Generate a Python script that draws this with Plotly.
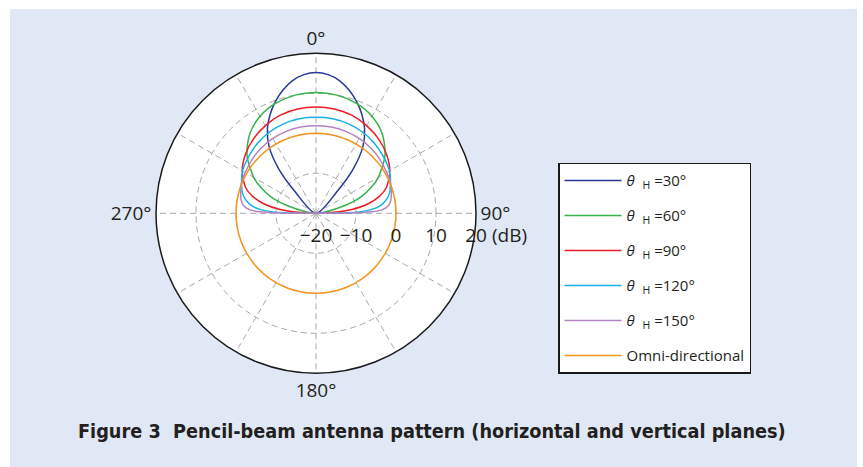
import plotly.graph_objects as go

# ---- data (half patterns, symmetric about 0 deg) ----
series_names = ["<i>θ</i>  <sub>H</sub> =30°", "<i>θ</i>  <sub>H</sub> =60°", "<i>θ</i>  <sub>H</sub> =90°",
                "<i>θ</i>  <sub>H</sub> =120°", "<i>θ</i>  <sub>H</sub> =150°", "Omni-directional"]
series_colors = ["#263A96", "#37B34A", "#ED1C24", "#14B1E7", "#B584C4", "#F7941D"]

theta30 = [0, 5, 10, 15, 20, 25, 30, 35, 40, 44, 47]
gain30 = [15.2, 14.8, 13.7, 11.9, 9.7, 7.2, 4.3, 0.5, -5.5, -12.5, -20]

theta60 = [0, 10, 20, 30, 40, 50, 60, 65, 70, 75, 79]
gain60 = [10.2, 10.0, 9.3, 8.0, 5.8, 2.5, -2.0, -4.8, -8.0, -12.5, -20]

theta90 = [0, 10, 20, 30, 40, 50, 60, 70, 75, 80, 84, 87, 89]
gain90 = [6.6, 6.5, 6.1, 5.3, 4.3, 3.0, 1.3, -1.3, -3.6, -7.0, -11.0, -15.5, -20]

theta120 = [0, 10, 20, 30, 40, 50, 60, 70, 75, 80, 84, 87, 89, 90]
gain120 = [4.0, 4.0, 3.8, 3.4, 2.8, 2.0, 1.2, -0.2, -1.0, -2.4, -4.2, -7.2, -12, -20]

theta150 = [0, 10, 20, 30, 40, 50, 60, 70, 75, 80, 84, 87, 88.5, 89.5, 90]
gain150 = [1.9, 1.9, 1.8, 1.6, 1.3, 0.9, 0.4, 0.0, -0.5, -1.0, -1.8, -3.5, -6, -11, -20]

omni_theta = list(range(0, 361, 5))
omni_gain = [0.0] * len(omni_theta)

radial_ticks = [-20, -10, 0, 10, 20]
radial_labels = ["−20", "−10", "0", "10", "20"]
angular_ticks = list(range(0, 360, 30))
angular_labels = ["0°", "", "", "90°", "", "", "180°", "", "", "270°", "", ""]
title_text = "Figure 3  Pencil-beam antenna pattern (horizontal and vertical planes)"


def full(theta, gain):
    th = [-t for t in reversed(theta[1:])] + theta
    g = list(reversed(gain[1:])) + gain
    return th, g


halves = [(theta30, gain30), (theta60, gain60), (theta90, gain90),
          (theta120, gain120), (theta150, gain150)]

fig = go.Figure()
for i, (th, g) in enumerate(halves):
    t_full, g_full = full(th, g)
    fig.add_trace(go.Scatterpolar(
        theta=t_full, r=g_full, mode="lines", name=series_names[i],
        line=dict(color=series_colors[i], width=1.5, shape="spline", smoothing=0.8),
        legendgroup=str(i)))
fig.add_trace(go.Scatterpolar(
    theta=omni_theta, r=omni_gain, mode="lines", name=series_names[5],
    line=dict(color=series_colors[5], width=1.5), legendgroup="5"))

W, H = 863, 467
cx, cy, R = 316, 213.3, 160
fig.update_layout(
    width=W, height=H,
    margin=dict(l=0, r=0, t=0, b=0),
    paper_bgcolor="white",
    font=dict(family="Open Sans, Noto Sans, sans-serif", color="#231F20"),
    showlegend=True,
    polar=dict(
        domain=dict(x=[(cx - R) / W, (cx + R) / W],
                    y=[(H - cy - R) / H, (H - cy + R) / H]),
        bgcolor="white",
        angularaxis=dict(
            rotation=90, direction="clockwise",
            tickmode="array", tickvals=angular_ticks, ticktext=angular_labels,
            ticks="", showline=True, linecolor="#1a1a1a", linewidth=1.5,
            gridcolor="#A8A8A8", gridwidth=1, griddash="6px,4px",
            tickfont=dict(size=19, color="#231F20"),
        ),
        radialaxis=dict(
            range=[-20, 20], angle=0, side="clockwise",
            tickmode="array", tickvals=radial_ticks, ticktext=radial_labels,
            showline=False, ticks="outside", ticklen=5, tickcolor="rgba(0,0,0,0)",
            gridcolor="#A8A8A8", gridwidth=1, griddash="6px,4px",
            tickfont=dict(size=19, color="#231F20"), tickangle=0,
        ),
    ),
    legend=dict(
        x=558 / W, y=1 - 162.7 / H, xanchor="left", yanchor="top",
        bgcolor="white", bordercolor="#1a1a1a", borderwidth=1.5,
        font=dict(size=15, color="#231F20"),
        traceorder="grouped", tracegroupgap=12.5, itemwidth=57,
    ),
    shapes=[dict(type="rect", xref="paper", yref="paper", layer="below",
                 x0=10 / W, x1=857 / W, y0=0, y1=1 - 9 / H,
                 fillcolor="#E0E8F5", line=dict(width=0))],
    annotations=[
        dict(text="(dB)", xref="paper", yref="paper", x=490 / W, y=1 - 235 / H,
             xanchor="left", yanchor="middle", showarrow=False,
             font=dict(size=19, color="#231F20")),
        dict(text="<b>" + title_text + "</b>", xref="paper", yref="paper",
             x=432 / W, y=1 - 431 / H, xanchor="center", yanchor="middle", showarrow=False,
             font=dict(size=19.7, color="#231F20",
                       family="Liberation Sans Narrow, DejaVu Sans Condensed, Roboto Condensed, sans-serif")),
    ],
)

fig.write_html("out.html")
